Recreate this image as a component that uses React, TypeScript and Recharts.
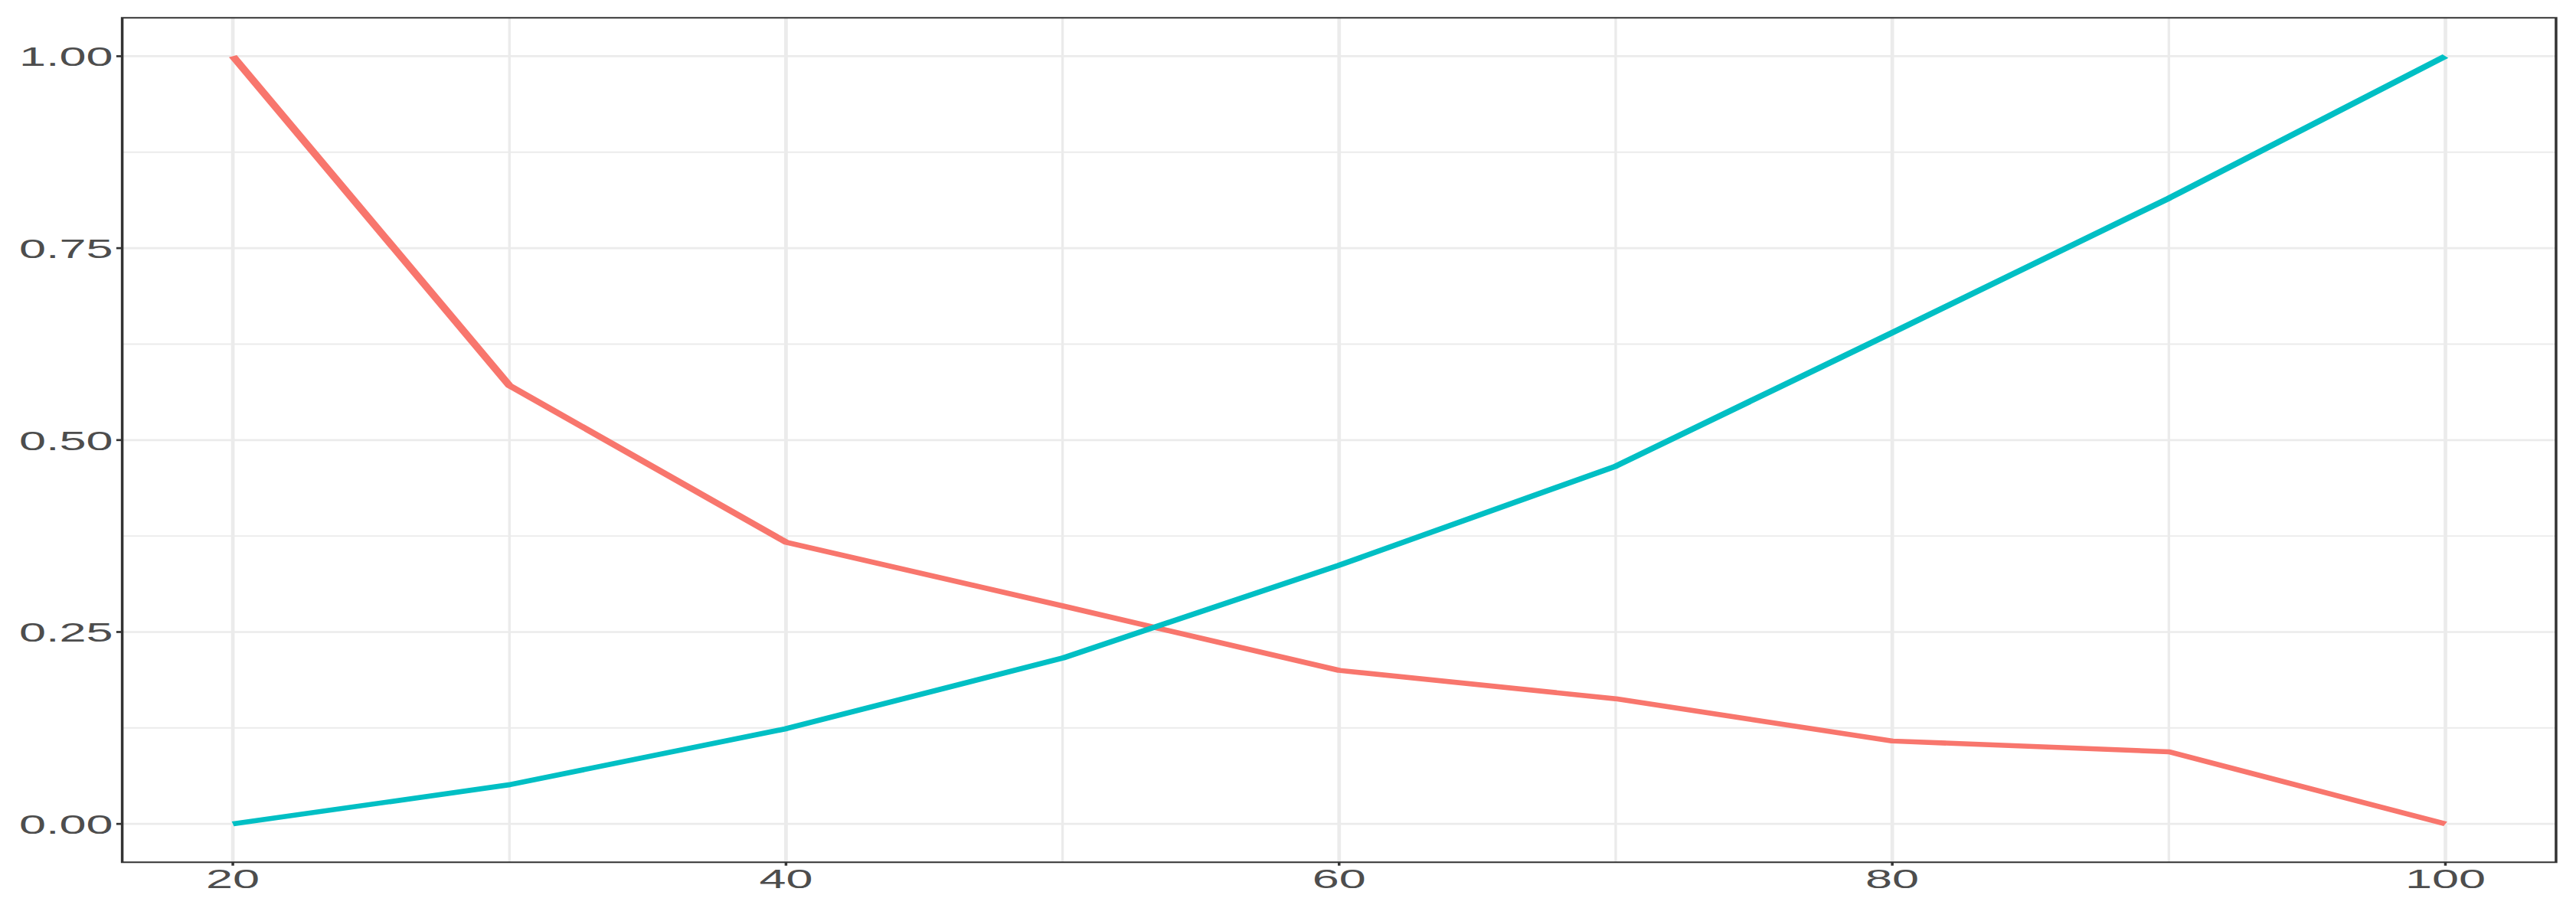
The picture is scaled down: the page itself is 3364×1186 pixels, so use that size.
import { CartesianGrid, Line, LineChart, ReferenceArea, XAxis, YAxis } from "recharts";

// x positions and the two series
const xValues = [20, 30, 40, 50, 60, 70, 80, 90, 100];
const redSeries = [1, 0.571, 0.367, 0.284, 0.2, 0.163, 0.108, 0.094, 0];
const cyanSeries = [0, 0.051, 0.124, 0.216, 0.337, 0.466, 0.64, 0.815, 1];

const xTicks = [20, 40, 60, 80, 100];
const xMinor = [30, 50, 70, 90];
const yTicks = [0, 0.25, 0.5, 0.75, 1];
const yMinor = [0.125, 0.375, 0.625, 0.875];

const RED = "#F8766D";
const CYAN = "#00BFC4";
const GRID = "#EBEBEB";
const INK = "#333333";
const LABEL = "#4D4D4D";

// the reference is stretched horizontally, so the chart is drawn narrow and scaled in x
const STRETCH = 1.75;
const FULL_W = 3364;
const FULL_H = 1186;
const W = FULL_W / STRETCH;

const data = xValues.map((x, i) => ({ x, red: redSeries[i], cyan: cyanSeries[i] }));

const tickStyle = { fill: LABEL, fontSize: 36, fontFamily: "'Liberation Sans', Arial, sans-serif" };

export default function App() {
  return (
    <div
      style={{
        position: "absolute",
        left: 0,
        top: 0,
        width: W,
        height: FULL_H,
        background: "#fff",
        transform: `scaleX(${STRETCH})`,
        transformOrigin: "0 0",
      }}
    >
      <LineChart width={W} height={FULL_H} data={data} margin={{ top: 23.3, right: W - 1907.4, bottom: 0, left: 0 }}>
        <CartesianGrid
          stroke={GRID}
          strokeWidth={1.9}
          horizontalValues={yMinor}
          verticalValues={xMinor}
        />
        <CartesianGrid
          stroke={GRID}
          strokeWidth={2.7}
          horizontalValues={yTicks}
          verticalValues={xTicks}
        />
        <XAxis
          type="number"
          dataKey="x"
          domain={[16, 104]}
          ticks={xTicks}
          allowDataOverflow
          axisLine={false}
          tickLine={{ stroke: INK, strokeWidth: 2 }}
          tickSize={4.4}
          tickMargin={3.5}
          tick={tickStyle}
          height={59.7}
          interval={0}
        />
        <YAxis
          type="number"
          domain={[-0.05, 1.05]}
          ticks={yTicks}
          allowDataOverflow
          axisLine={false}
          tickLine={{ stroke: INK, strokeWidth: 2.7 }}
          tickSize={4.4}
          tickMargin={2.5}
          tick={tickStyle}
          tickFormatter={(v: number) => v.toFixed(2)}
          width={91.2}
          interval={0}
        />
        <Line
          type="linear"
          dataKey="red"
          stroke={RED}
          strokeWidth={6.5}
          strokeLinejoin="round"
          dot={false}
          activeDot={false}
          isAnimationActive={false}
        />
        <Line
          type="linear"
          dataKey="cyan"
          stroke={CYAN}
          strokeWidth={6.5}
          strokeLinejoin="round"
          dot={false}
          activeDot={false}
          isAnimationActive={false}
        />
        <ReferenceArea
          x1={16}
          x2={104}
          y1={-0.05}
          y2={1.05}
          fill="none"
          fillOpacity={0}
          stroke={INK}
          strokeWidth={2}
        />
      </LineChart>
    </div>
  );
}
